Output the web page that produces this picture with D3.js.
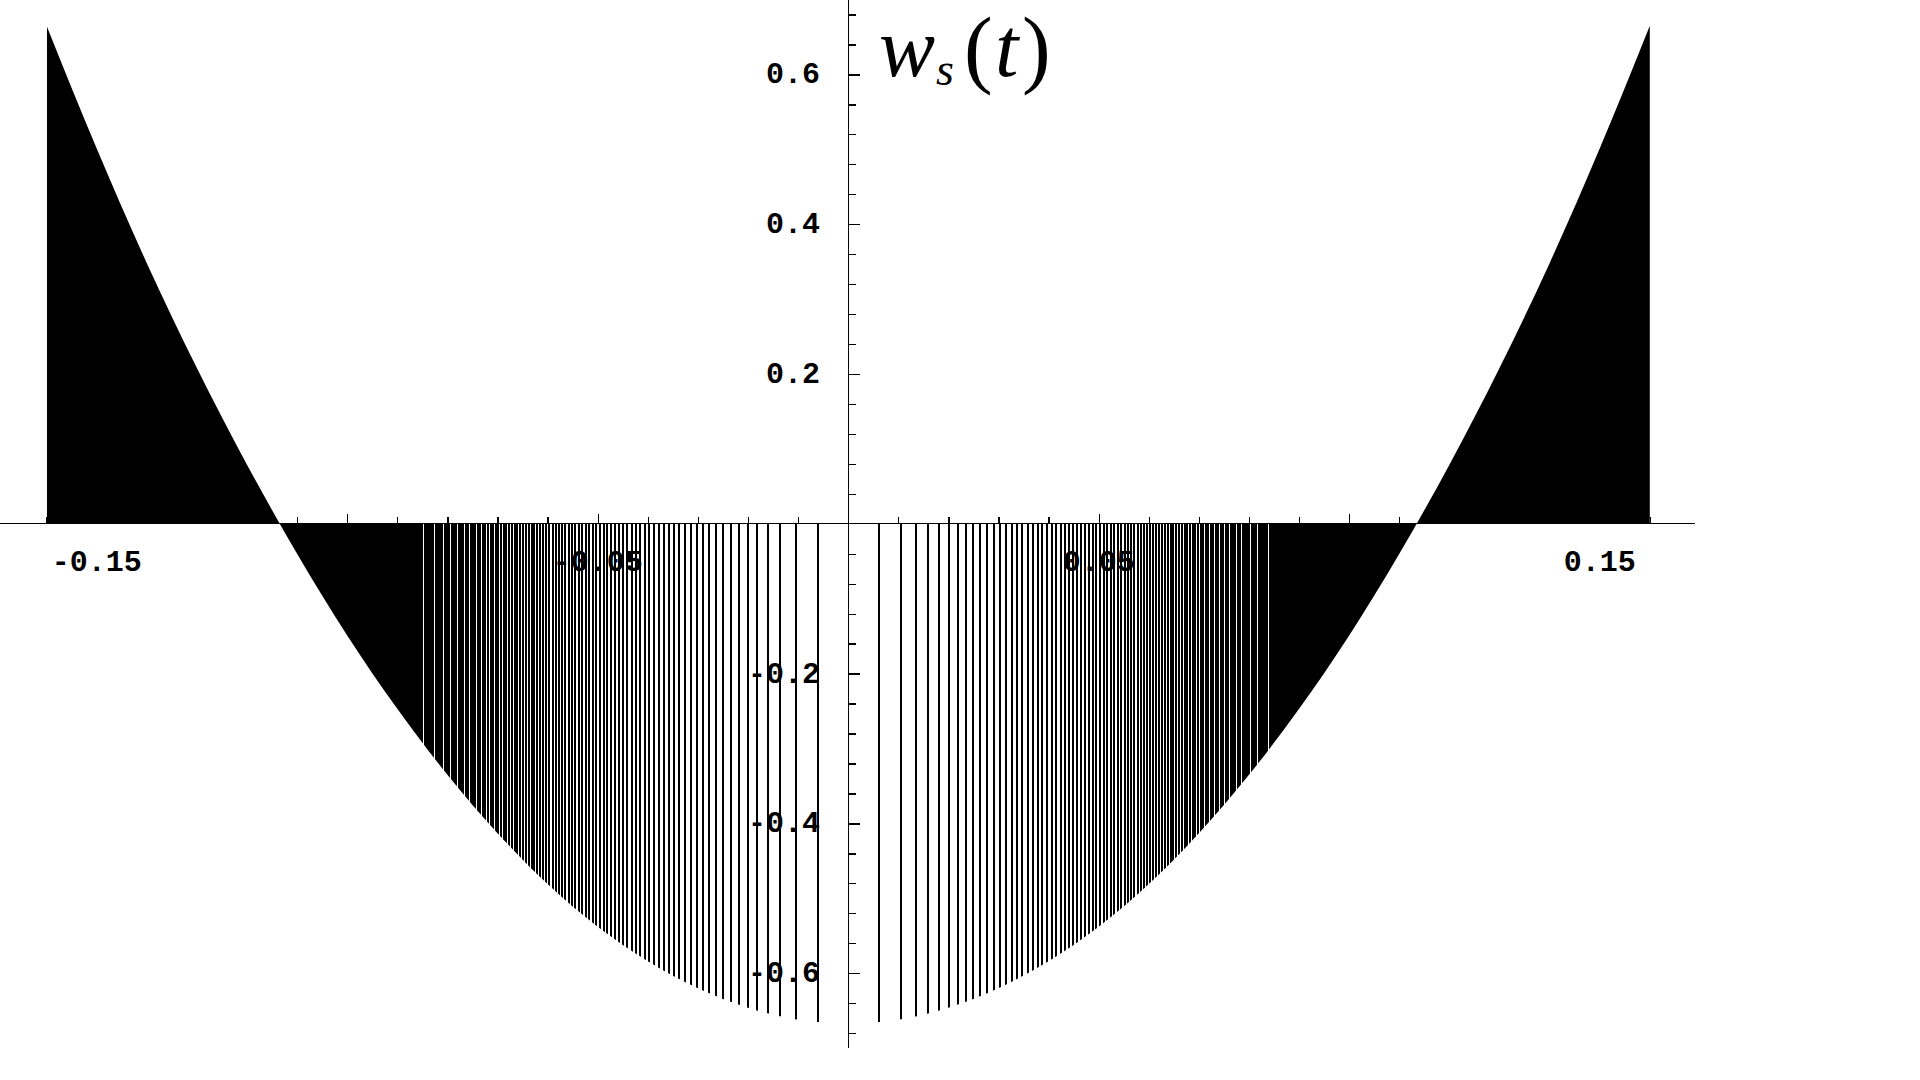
<!DOCTYPE html>
<html>
<head>
<meta charset="utf-8">
<script src="https://cdn.jsdelivr.net/npm/d3@7"></script>
<style>
  html, body { margin: 0; padding: 0; background: #fff; }
  svg { display: block; }
</style>
</head>
<body>
<svg id="chart" width="1920" height="1080"></svg>
<script>
// ---------------- data ----------------
// envelope of w_s(t): t and value at the tips of the oscillation
const envT = [-0.16,-0.15,-0.14,-0.13,-0.12,-0.11,-0.10,-0.09,-0.08,-0.07,-0.06,-0.05,-0.04,-0.03,-0.02,-0.01,0,
              0.01,0.02,0.03,0.04,0.05,0.06,0.07,0.08,0.09,0.10,0.11,0.12,0.13,0.14,0.15,0.16];
const envW = [0.665,0.501,0.348,0.208,0.079,-0.040,-0.149,-0.247,-0.335,-0.413,-0.481,-0.538,-0.584,-0.620,-0.646,-0.662,-0.667,
              -0.662,-0.646,-0.620,-0.584,-0.538,-0.481,-0.413,-0.335,-0.247,-0.149,-0.040,0.079,0.208,0.348,0.501,0.665];

// |t| positions of the oscillation spikes (same on both sides of t = 0)
const spikeT = [
  0.006054,0.010486,0.013538,0.016018,0.018163,0.020079,0.021829,0.023448,0.024962,0.026390,
  0.027744,0.029035,0.030271,0.031458,0.032603,0.033708,0.034779,0.035817,0.036826,0.037809,
  0.038766,0.039700,0.040613,0.041505,0.042379,0.043236,0.044075,0.044899,0.045708,0.046503,
  0.047285,0.048054,0.048811,0.049556,0.050290,0.051014,0.051727,0.052431,0.053126,0.053811,
  0.054488,0.055157,0.055817,0.056470,0.057115,0.057754,0.058385,0.059009,0.059627,0.060239,
  0.060844,0.061444,0.062037,0.062625,0.063208,0.063785,0.064357,0.064924,0.065486,0.066044,
  0.066596,0.067144,0.067688,0.068227,0.068762,0.069293,0.069820,0.070343,0.070863,0.071378,
  0.071890,0.072398,0.072902,0.073403,0.073901,0.074395,0.074886,0.075374,0.075859,0.076340,
  0.076819,0.077295,0.077767,0.078237,0.078704,0.079169,0.079630,0.080089,0.080545,0.080999,
  0.081450,0.081899,0.082345,0.082789,0.083231,0.083670,0.084107,0.084541,0.084974,0.085404,
  0.085832,0.086258,0.086682
];
// where the spikes merge into a solid black fill
const solidBands = [[-0.16, -0.0867], [0.0867, 0.16]];

// axes
const xAxisExtent = [-0.1693, 0.1690];
const yAxisExtent = [-0.7, 0.7];
const xMinorTicks = d3.range(-16, 17).map(i => i / 100);
const xMajorTicks = [-0.15, -0.10, -0.05, 0.05, 0.10, 0.15];
const xLabelVals = [-0.15, -0.05, 0.05, 0.15];
const xLabelText = ["-0.15", "-0.05", "0.05", "0.15"];
const yMinorTicks = d3.range(-17, 18).map(i => i * 0.04).filter(v => Math.abs(v) > 1e-9);
const yMajorTicks = [-0.6, -0.4, -0.2, 0.2, 0.4, 0.6];
const yLabelVals = [0.6, 0.4, 0.2, -0.2, -0.4, -0.6];
const yLabelText = ["0.6", "0.4", "0.2", "-0.2", "-0.4", "-0.6"];

// ---------------- drawing ----------------
const svg = d3.select("#chart");
svg.append("rect").attr("width", 1920).attr("height", 1080).attr("fill", "#fff");

const x = d3.scaleLinear().domain([-0.16, 0.16]).range([46.6, 1649.8]);
const y = d3.scaleLinear().domain([-0.7, 0.7]).range([1048.1, -0.5]);

const env = envT.map((t, i) => ({t, w: envW[i]}));

// tick labels (drawn beneath the curve, as in the original)
const labelFont = "'Liberation Mono', 'DejaVu Sans Mono', monospace";
svg.append("g").selectAll("text").data(xLabelVals).join("text")
  .attr("x", d => x(d)).attr("y", 571)
  .attr("text-anchor", "middle")
  .attr("font-family", labelFont).attr("font-size", 30).attr("font-weight", "bold")
  .attr("fill", "#000")
  .text((d, i) => xLabelText[i]);
svg.append("g").selectAll("text").data(yLabelVals).join("text")
  .attr("x", 820).attr("y", d => y(d) + 9)
  .attr("text-anchor", "end")
  .attr("font-family", labelFont).attr("font-size", 30).attr("font-weight", "bold")
  .attr("fill", "#000")
  .text((d, i) => yLabelText[i]);

// clip: region between the axis and the envelope
const area = d3.area().x(d => x(d.t)).y0(y(0)).y1(d => y(d.w)).curve(d3.curveMonotoneX);
svg.append("defs").append("clipPath").attr("id", "envClip")
  .append("path").attr("d", area(env)).attr("shape-rendering", "crispEdges");

const plot = svg.append("g").attr("clip-path", "url(#envClip)");
plot.selectAll("rect.solid").data(solidBands).join("rect")
  .attr("class", "solid")
  .attr("x", d => x(d[0])).attr("width", d => x(d[1]) - x(d[0]))
  .attr("y", y(0.7)).attr("height", y(-0.7) - y(0.7))
  .attr("fill", "#000").attr("shape-rendering", "crispEdges");

const spikes = spikeT.flatMap(t => [-t, t]);
plot.selectAll("line.spike").data(spikes).join("line")
  .attr("class", "spike")
  .attr("x1", d => x(d)).attr("x2", d => x(d))
  .attr("y1", y(0)).attr("y2", y(-0.7))
  .attr("stroke", "#000")
  .attr("stroke-width", 2)
  .attr("shape-rendering", "crispEdges");

// axes lines
const axes = svg.append("g").attr("shape-rendering", "crispEdges");
axes.append("line")
  .attr("x1", x(xAxisExtent[0])).attr("x2", x(xAxisExtent[1]))
  .attr("y1", y(0)).attr("y2", y(0))
  .attr("stroke", "#000").attr("stroke-width", 1.3);
axes.append("line")
  .attr("x1", x(0)).attr("x2", x(0))
  .attr("y1", y(yAxisExtent[1])).attr("y2", y(yAxisExtent[0]))
  .attr("stroke", "#000").attr("stroke-width", 1.3);

// ticks
function styleAxis(g) {
  g.select(".domain").remove();
  g.selectAll(".tick line").attr("stroke", "#000").attr("stroke-width", 1.3);
  g.selectAll(".tick text").remove();
}
axes.append("g").attr("transform", `translate(0,${y(0)})`)
  .call(d3.axisTop(x).tickValues(xMinorTicks.filter(v => !xMajorTicks.some(m => Math.abs(m - v) < 1e-9) && Math.abs(v) > 1e-9)).tickSize(6.5).tickFormat(""))
  .call(styleAxis);
axes.append("g").attr("transform", `translate(0,${y(0)})`)
  .call(d3.axisTop(x).tickValues(xMajorTicks).tickSize(10).tickFormat(""))
  .call(styleAxis);
axes.append("g").attr("transform", `translate(${x(0)},0)`)
  .call(d3.axisRight(y).tickValues(yMinorTicks.filter(v => !yMajorTicks.some(m => Math.abs(m - v) < 1e-9))).tickSize(7.5).tickFormat(""))
  .call(styleAxis);
axes.append("g").attr("transform", `translate(${x(0)},0)`)
  .call(d3.axisRight(y).tickValues(yMajorTicks).tickSize(12).tickFormat(""))
  .call(styleAxis);

// title  w_s(t)
const title = svg.append("text")
  .attr("font-family", "'Liberation Serif', 'DejaVu Serif', serif")
  .attr("fill", "#000");
title.append("tspan").attr("x", 879).attr("y", 76).attr("font-size", 84).attr("font-style", "italic").text("w");
title.append("tspan").attr("x", 936).attr("y", 85).attr("font-size", 46).attr("font-style", "italic").text("s");
title.append("tspan").attr("x", 964).attr("y", 77).attr("font-size", 86).text("(");
title.append("tspan").attr("x", 995).attr("y", 76).attr("font-size", 84).attr("font-style", "italic").text("t");
title.append("tspan").attr("x", 1022).attr("y", 77).attr("font-size", 86).text(")");
</script>
</body>
</html>
